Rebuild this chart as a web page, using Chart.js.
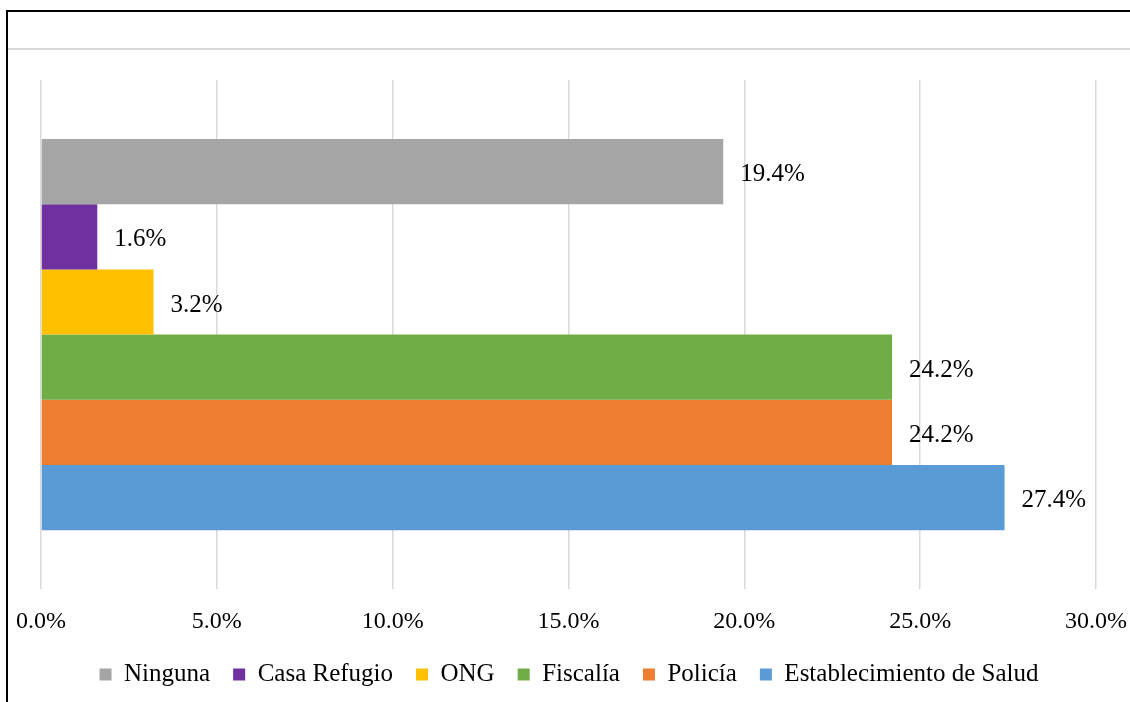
<!DOCTYPE html>
<html>
<head>
<meta charset="utf-8">
<script src="https://cdn.jsdelivr.net/npm/chart.js@4/dist/chart.umd.min.js"></script>
<style>
  body { margin: 0; background: #fff; }
  #wrap { position: relative; width: 1130px; height: 702px; overflow: hidden; }
  #chart { position: absolute; left: 0; top: 0; }
  .frameTop { position: absolute; left: 6px; top: 10px; right: 0; height: 2px; background: #000; }
  .frameLeft { position: absolute; left: 6px; top: 10px; bottom: 0; width: 2px; background: #000; }
  .sepLine { position: absolute; left: 8px; top: 48px; right: 0; height: 2px; background: #d9d9d9; }
</style>
</head>
<body>
<div id="wrap">
  <canvas id="chart" width="1130" height="702"></canvas>
  <div class="frameTop"></div>
  <div class="frameLeft"></div>
  <div class="sepLine"></div>
</div>
<script>
const categories = [''];
const seriesNames = ['Ninguna', 'Casa Refugio', 'ONG', 'Fiscalía', 'Policía', 'Establecimiento de Salud'];
const seriesValues = [19.4, 1.6, 3.2, 24.2, 24.2, 27.4];
const seriesColors = ['#A5A5A5', '#7030A0', '#FFC000', '#70AD47', '#ED7D31', '#5B9BD5'];
const xTicks = [0, 5, 10, 15, 20, 25, 30];

const serif = '"Liberation Serif", "Times New Roman", serif';

// value labels to the right of each bar
const barLabels = {
    id: 'barLabels',
    afterDatasetsDraw(chart) {
        const ctx = chart.ctx;
        ctx.save();
        ctx.font = '25px ' + serif;
        ctx.fillStyle = '#000';
        ctx.textAlign = 'left';
        ctx.textBaseline = 'middle';
        chart.data.datasets.forEach((ds, i) => {
            const meta = chart.getDatasetMeta(i);
            meta.data.forEach((bar, j) => {
                ctx.fillText(ds.data[j].toFixed(1) + '%', bar.x + 17, bar.y + 3);
            });
        });
        ctx.restore();
    }
};

const datasets = seriesNames.map((name, i) => ({
    label: name,
    data: [seriesValues[i]],
    backgroundColor: seriesColors[i],
    borderWidth: 0,
    categoryPercentage: 0.768,
    barPercentage: 1.0,
}));

new Chart(document.getElementById('chart'), {
    type: 'bar',
    data: { labels: categories, datasets: datasets },
    options: {
        responsive: false,
        animation: false,
        indexAxis: 'y',
        layout: { padding: { top: 80, left: 41, right: 33, bottom: 5 } },
        scales: {
            x: {
                min: 0,
                max: 30,
                afterBuildTicks(axis) {
                    axis.ticks = xTicks.map(v => ({ value: v }));
                },
                grid: { color: '#d9d9d9', lineWidth: 1.5, drawTicks: true, tickLength: 15, tickColor: 'rgba(0,0,0,0)' },
                border: { display: false },
                ticks: {
                    padding: 3,
                    color: '#000',
                    font: { family: serif, size: 24 },
                    callback: v => v.toFixed(1) + '%',
                },
            },
            y: { display: false },
        },
        plugins: {
            legend: {
                position: 'bottom',
                labels: {
                    boxWidth: 12,
                    boxHeight: 12,
                    padding: 23,
                    color: '#000',
                    font: { family: serif, size: 25 },
                },
            },
            tooltip: { enabled: false },
        },
    },
    plugins: [barLabels],
});
</script>
</body>
</html>
